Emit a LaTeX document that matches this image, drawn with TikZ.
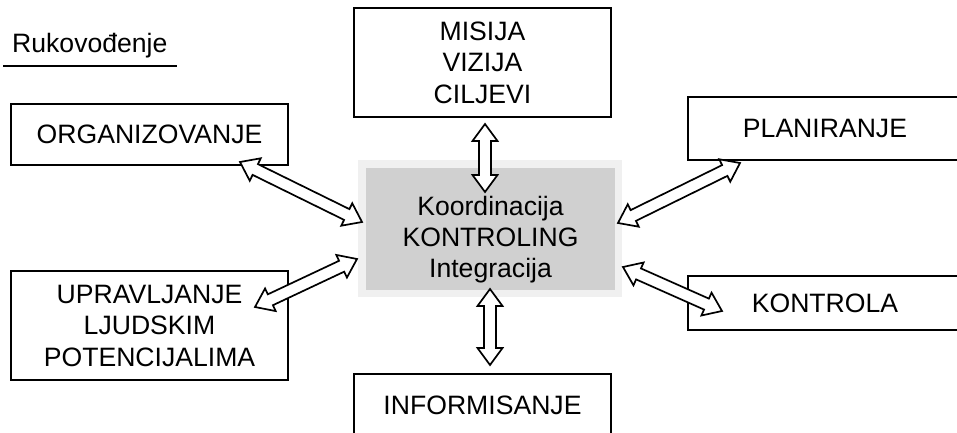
\documentclass[tikz,border=0pt]{standalone}
\usepackage{fontspec}
\setmainfont{Liberation Sans}
\usetikzlibrary{calc}
\definecolor{outerg}{RGB}{240,240,240}
\definecolor{innerg}{RGB}{208,208,208}
\newcommand\arrHL{17pt}
\newcommand\arrHW{12.5pt}
\newcommand\arrSW{6pt}
\newcommand\bidir[2]{%
  \coordinate (ba1) at ($(#1)!\arrHL!(#2)$);
  \coordinate (bb1) at ($(#2)!\arrHL!(#1)$);
  \draw[blockarrow] (#1) -- ($(ba1)!\arrHW!90:(#2)$) -- ($(ba1)!\arrSW!90:(#2)$)
    -- ($(bb1)!\arrSW!-90:(#1)$) -- ($(bb1)!\arrHW!-90:(#1)$) -- (#2)
    -- ($(bb1)!\arrHW!90:(#1)$) -- ($(bb1)!\arrSW!90:(#1)$)
    -- ($(ba1)!\arrSW!-90:(#2)$) -- ($(ba1)!\arrHW!-90:(#2)$) -- cycle;}
\tikzset{
  boxnode/.style={draw, line width=2pt, fill=white, inner sep=0pt, align=center,
    font=\fontsize{26.6}{31.5}\selectfont},
  blockarrow/.style={draw, fill=white, line width=1.7pt},
}
\begin{document}
\begin{tikzpicture}[x=1pt,y=-1pt]
\useasboundingbox (0,0) rectangle (957,433);
% title
\node[anchor=base west, inner sep=0pt, font=\fontsize{26.6}{31}\selectfont] (ruk) at (12,53) {Rukovođenje};
\coordinate (ul1) at (3,66);
\coordinate (ul2) at (177,66);
\draw[line width=2pt] (ul1) -- (ul2);
% outer boxes
\node[boxnode, minimum width=257pt, minimum height=109pt] (mis) at (482.5,62.5) {MISIJA\\VIZIJA\\CILJEVI};
\node[boxnode, minimum width=277pt, minimum height=61pt] (org) at (149.5,134.5) {ORGANIZOVANJE};
\node[boxnode, minimum width=277pt, minimum height=109pt] (upr) at (149.5,325.5) {UPRAVLJANJE\\LJUDSKIM\\POTENCIJALIMA};
\node[boxnode, minimum width=274pt, minimum height=63pt] (pla) at (825,128.5) {PLANIRANJE};
\node[boxnode, minimum width=274pt, minimum height=54pt] (kon) at (825,303) {KONTROLA};
\node[boxnode, minimum width=257pt, minimum height=62pt] (inf) at (482.5,405) {INFORMISANJE};
% central box
\fill[outerg] (358,160) rectangle (622,297);
\fill[innerg] (366,168) rectangle (615,290);
\node[align=center, inner sep=0pt, font=\fontsize{26.6}{31}\selectfont] (ctr) at (490.5,240) {Koordinacija\\KONTROLING\\Integracija};
% arrow end points
\coordinate (t1) at (485,124);
\coordinate (t2) at (485,192);
\coordinate (b1) at (490,289);
\coordinate (b2) at (490,365);
\coordinate (o1) at (240,162);
\coordinate (o2) at (362,222);
\coordinate (u1) at (255,307);
\coordinate (u2) at (357,259);
\coordinate (p1) at (618,223);
\coordinate (p2) at (740,163);
\coordinate (k1) at (623,267);
\coordinate (k2) at (722,311);
\bidir{t1}{t2}
\bidir{b1}{b2}
\bidir{o1}{o2}
\bidir{u1}{u2}
\bidir{p1}{p2}
\bidir{k1}{k2}
\end{tikzpicture}
\end{document}
